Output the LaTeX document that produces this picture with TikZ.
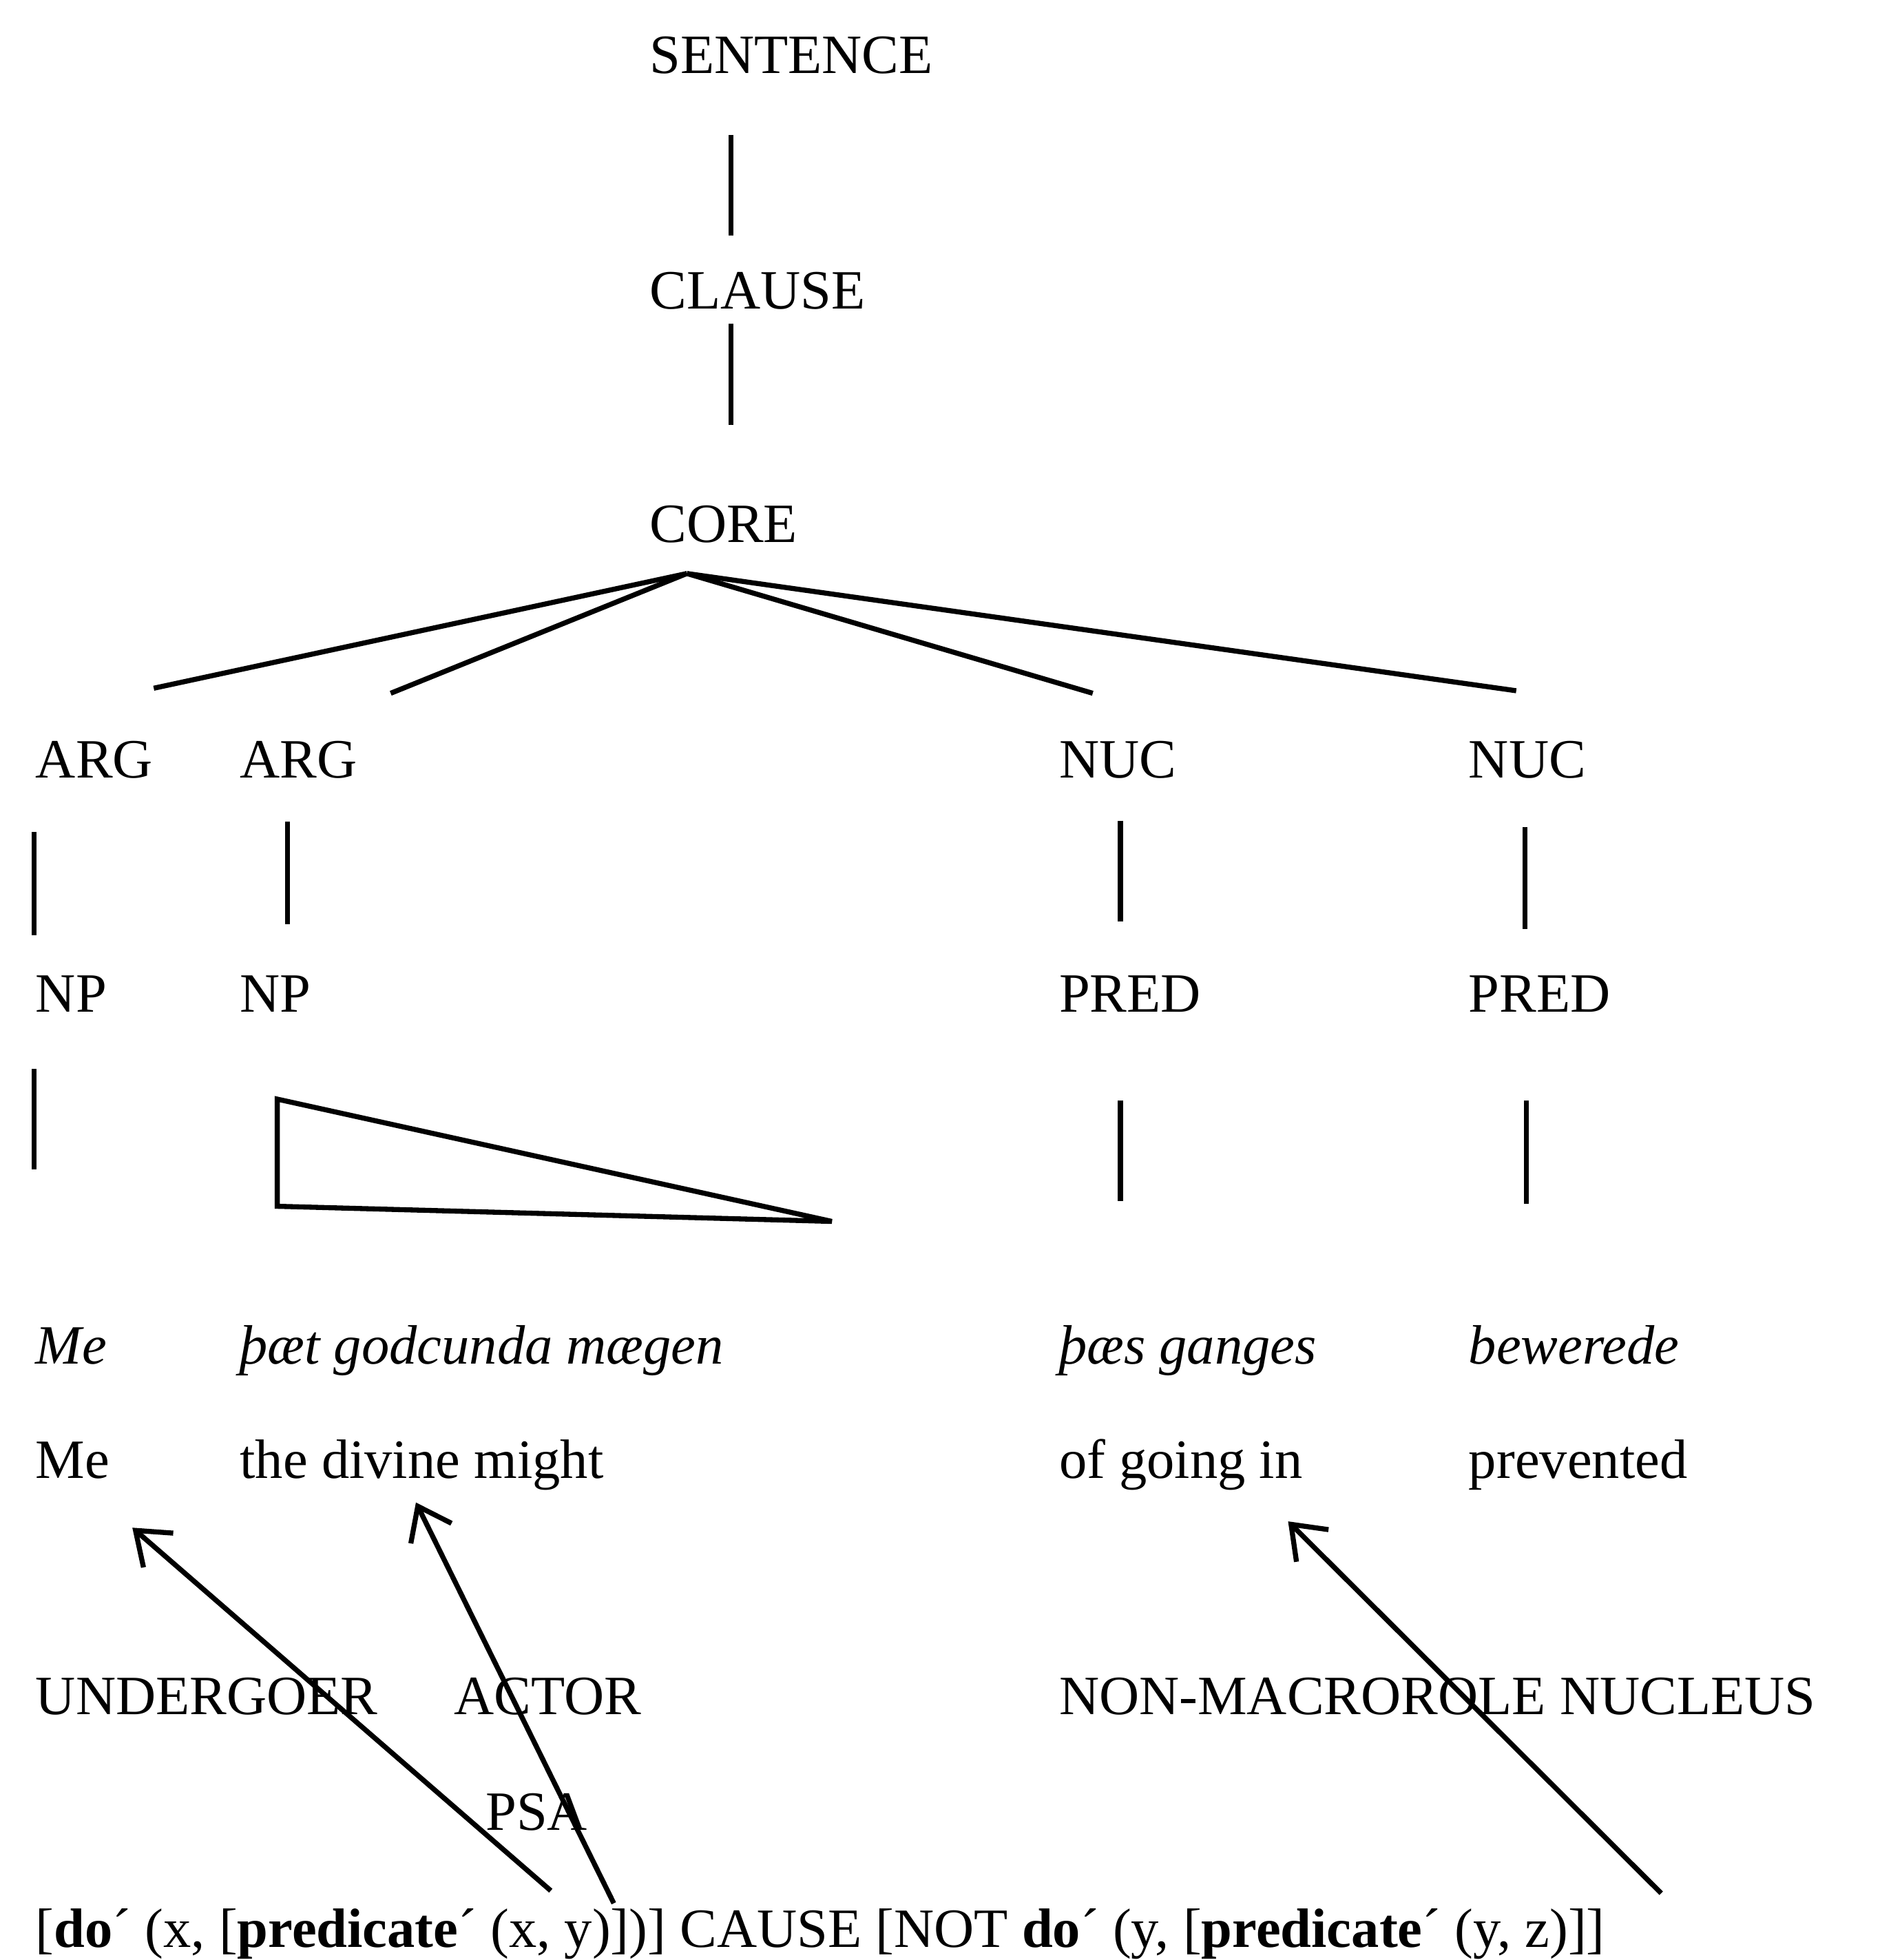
\documentclass[tikz,border=0pt]{standalone}
\usepackage{fontspec}
\setmainfont{Liberation Serif}
\usetikzlibrary{arrows.meta}
\begin{document}
\begin{tikzpicture}[x=0.5pt,y=-0.5pt,
  lab/.style={anchor=base west,inner sep=0pt,font=\fontsize{22}{26}\selectfont},
  ln/.style={line width=2pt},
  ar/.style={line width=2pt,-{Straight Barb[length=12pt,width=18pt,line width=2pt]}}]
\useasboundingbox (0,0) rectangle (1500,1555);
\node[lab] (s) at (515,58) {SENTENCE};
\node[lab] (c) at (515,245) {CLAUSE};
\node[lab] (core) at (515,430) {CORE};
\node[lab] (a1) at (28,617) {ARG};
\node[lab] (a2) at (190,617) {ARG};
\node[lab] (n1) at (840,617) {NUC};
\node[lab] (n2) at (1165,617) {NUC};
\node[lab] (np1) at (28,803) {NP};
\node[lab] (np2) at (190,803) {NP};
\node[lab] (p1) at (840,803) {PRED};
\node[lab] (p2) at (1165,803) {PRED};
\node[lab] (i1) at (28,1082) {\itshape Me};
\node[lab] (i2) at (190,1082) {\itshape þæt godcunda mægen};
\node[lab] (i3) at (840,1082) {\itshape þæs ganges};
\node[lab] (i4) at (1165,1082) {\itshape bewerede};
\node[lab] (g1) at (28,1173) {Me};
\node[lab] (g2) at (190,1173) {the divine might};
\node[lab] (g3) at (840,1173) {of going in};
\node[lab] (g4) at (1165,1173) {prevented};
\node[lab] (und) at (28,1360) {UNDERGOER};
\node[lab] (act) at (360,1360) {ACTOR};
\node[lab] (nmr) at (840,1360) {NON-MACROROLE NUCLEUS};
\node[lab] (psa) at (385,1452) {PSA};
\node[lab] (f) at (28,1545) {[\textbf{do}´ (x, [\textbf{predicate}´ (x, y)])] CAUSE [NOT \textbf{do}´ (y, [\textbf{predicate}´ (y, z)]]};
\coordinate (apex) at (545,455);
\draw[ln] (580,107) -- (580,187);
\draw[ln] (580,257) -- (580,337);
\draw[ln] (apex) -- (122,546);
\draw[ln] (apex) -- (310,550);
\draw[ln] (apex) -- (867,550);
\draw[ln] (apex) -- (1203,548);
\draw[ln] (27,660) -- (27,742);
\draw[ln] (228,652) -- (228,733);
\draw[ln] (889,651) -- (889,731);
\draw[ln] (1210,656) -- (1210,737);
\draw[ln] (27,848) -- (27,928);
\draw[ln,line join=miter] (220,872) -- (220,957) -- (660,969) -- cycle;
\draw[ln] (889,873) -- (889,953);
\draw[ln] (1211,873) -- (1211,955);
\coordinate (t1) at (437,1500); \coordinate (h1) at (105,1212);
\coordinate (t2) at (487,1510); \coordinate (h2) at (330,1192);
\coordinate (t3) at (1318,1502); \coordinate (h3) at (1022,1207);
\draw[ar] (t1) -- (h1);
\draw[ar] (t2) -- (h2);
\draw[ar] (t3) -- (h3);
\end{tikzpicture}
\end{document}
